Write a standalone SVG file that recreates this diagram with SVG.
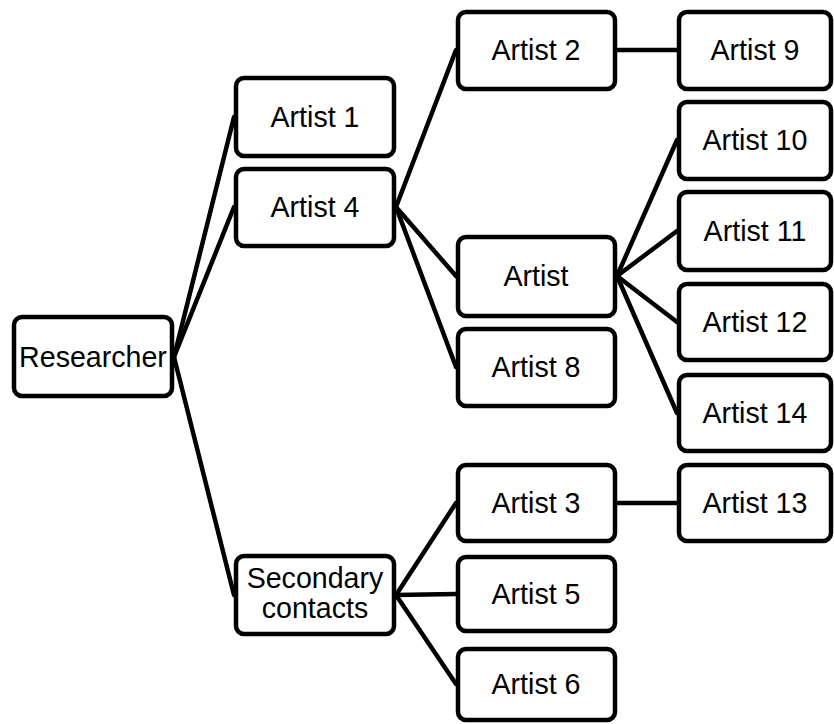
<svg xmlns="http://www.w3.org/2000/svg" width="834" height="724" viewBox="0 0 834 724">
<style>
.box{fill:#fff;stroke:#000;stroke-width:4.5}
.lbl{font-family:"Liberation Sans",Arial,sans-serif;font-size:28.6px;fill:#000;text-anchor:middle}
.con line{stroke:#000;stroke-width:4.5;stroke-linecap:round}
</style>
<rect width="834" height="724" fill="#fff"/>
<g class="con" id="connectors">
<line x1="174" y1="357" x2="234" y2="117"/>
<line x1="174" y1="357" x2="234" y2="207"/>
<line x1="174" y1="357" x2="234" y2="595"/>
<line x1="396" y1="207" x2="456" y2="50"/>
<line x1="396" y1="207" x2="456" y2="276"/>
<line x1="396" y1="207" x2="456" y2="367"/>
<line x1="617" y1="50" x2="677" y2="50"/>
<line x1="617" y1="276" x2="677" y2="140"/>
<line x1="617" y1="276" x2="677" y2="231"/>
<line x1="617" y1="276" x2="677" y2="322"/>
<line x1="617" y1="276" x2="677" y2="413"/>
<line x1="396" y1="595" x2="456" y2="503"/>
<line x1="396" y1="595" x2="456" y2="594"/>
<line x1="396" y1="595" x2="456" y2="684"/>
<line x1="617" y1="503" x2="677" y2="503"/>
</g>
<g id="researcher"><rect class="box" x="14" y="317" width="158" height="79" rx="8"/><text class="lbl" x="93" y="367">Researcher</text></g>
<g id="artist1"><rect class="box" x="236" y="78" width="158" height="78" rx="8"/><text class="lbl" x="315" y="127">Artist 1</text></g>
<g id="artist4"><rect class="box" x="236" y="169" width="158" height="77" rx="8"/><text class="lbl" x="315" y="217">Artist 4</text></g>
<g id="secondary"><rect class="box" x="236" y="556" width="158" height="78" rx="8"/><text class="lbl" x="315" y="588">Secondary</text><text class="lbl" x="315" y="618">contacts</text></g>
<g id="artist2"><rect class="box" x="458" y="12" width="157" height="77" rx="8"/><text class="lbl" x="536" y="60">Artist 2</text></g>
<g id="artist"><rect class="box" x="458" y="237" width="157" height="79" rx="8"/><text class="lbl" x="536" y="286">Artist</text></g>
<g id="artist8"><rect class="box" x="458" y="329" width="157" height="77" rx="8"/><text class="lbl" x="536" y="377">Artist 8</text></g>
<g id="artist3"><rect class="box" x="458" y="465" width="157" height="76" rx="8"/><text class="lbl" x="536" y="513">Artist 3</text></g>
<g id="artist5"><rect class="box" x="458" y="557" width="157" height="74" rx="8"/><text class="lbl" x="536" y="604">Artist 5</text></g>
<g id="artist6"><rect class="box" x="458" y="649" width="157" height="71" rx="8"/><text class="lbl" x="536" y="694">Artist 6</text></g>
<g id="artist9"><rect class="box" x="679" y="12" width="152" height="77" rx="8"/><text class="lbl" x="755" y="60">Artist 9</text></g>
<g id="artist10"><rect class="box" x="679" y="102" width="152" height="77" rx="8"/><text class="lbl" x="755" y="150">Artist 10</text></g>
<g id="artist11"><rect class="box" x="679" y="192" width="152" height="78" rx="8"/><text class="lbl" x="755" y="241">Artist 11</text></g>
<g id="artist12"><rect class="box" x="679" y="284" width="152" height="76" rx="8"/><text class="lbl" x="755" y="332">Artist 12</text></g>
<g id="artist14"><rect class="box" x="679" y="375" width="152" height="76" rx="8"/><text class="lbl" x="755" y="423">Artist 14</text></g>
<g id="artist13"><rect class="box" x="679" y="465" width="152" height="76" rx="8"/><text class="lbl" x="755" y="513">Artist 13</text></g>
</svg>
